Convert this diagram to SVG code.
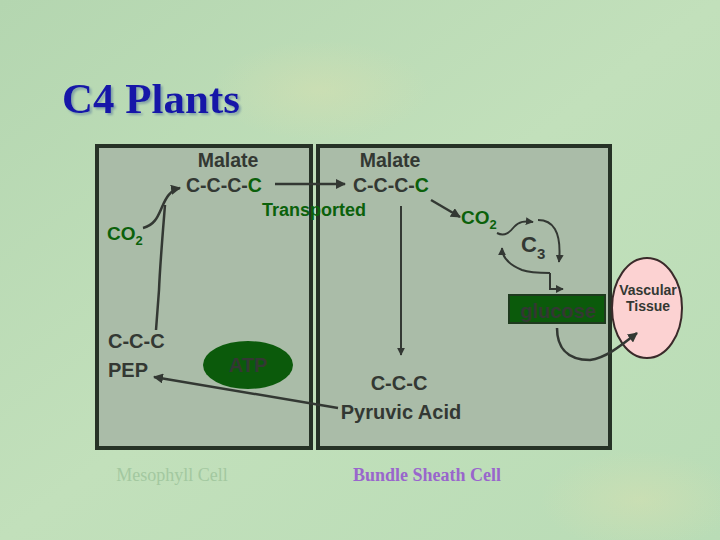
<svg xmlns="http://www.w3.org/2000/svg" width="720" height="540" viewBox="0 0 720 540">
<defs>
<linearGradient id="bg" x1="0" y1="0" x2="1" y2="1">
<stop offset="0" stop-color="#b4d6b0"/>
<stop offset="0.5" stop-color="#c2e0bb"/>
<stop offset="1" stop-color="#b9dcb6"/>
</linearGradient>
<radialGradient id="spot" cx="0.5" cy="0.5" r="0.5">
<stop offset="0" stop-color="#d8e0b0" stop-opacity="0.5"/>
<stop offset="1" stop-color="#d8e0b0" stop-opacity="0"/>
</radialGradient>
<filter id="sh" x="-5%" y="-20%" width="115%" height="150%">
<feDropShadow dx="2" dy="2" stdDeviation="0.8" flood-color="#6a8aa0" flood-opacity="0.7"/>
</filter>
<marker id="ah" viewBox="0 0 10 10" refX="9" refY="5" markerWidth="4" markerHeight="4" orient="auto-start-reverse">
<path d="M0,0 L10,5 L0,10 z" fill="#333833"/>
</marker>
<style>
.cell{fill:#aabca8;stroke:#263226;stroke-width:4}
.t{font-family:"Liberation Sans",Arial,sans-serif;font-weight:bold;fill:#333833}
.g{fill:#0b610b}
.ln{fill:none;stroke:#333833;stroke-width:2.5}
.lt{fill:none;stroke:#333833;stroke-width:2}
</style>
</defs>
<rect width="720" height="540" fill="url(#bg)"/>
<ellipse cx="320" cy="90" rx="110" ry="50" fill="url(#spot)"/>
<ellipse cx="640" cy="500" rx="100" ry="50" fill="url(#spot)"/>
<text x="62" y="113" font-family="Liberation Serif,Times New Roman,serif" font-weight="bold" font-size="43" fill="#1414a8" filter="url(#sh)">C4 Plants</text>

<g id="mesophyll"><rect class="cell" x="97" y="146" width="214" height="302"/></g>
<g id="bundle-sheath"><rect class="cell" x="318" y="146" width="292" height="302"/></g>
<g id="vascular">
<ellipse cx="647" cy="308" rx="35" ry="50" fill="#fcd2d2" stroke="#3a2a2a" stroke-width="2"/>
<text class="t" x="648" y="295" font-size="14" font-weight="normal" text-anchor="middle">Vascular</text>
<text class="t" x="648" y="311" font-size="14" font-weight="normal" text-anchor="middle">Tissue</text>
</g>

<g id="connectors">
<path class="ln" d="M275,184 L345,184" marker-end="url(#ah)"/>
<path class="ln" d="M431,200 L460,217" marker-end="url(#ah)"/>
<path class="lt" d="M401,206 L401,355" marker-end="url(#ah)"/>
<path class="ln" d="M143,228 C155,225 158,216 162,207 C166,198 170,190 180,188" marker-end="url(#ah)"/>
<path class="ln" d="M165,205 C163,230 160,265 159,290 C158,305 157,318 156,330"/>
<path class="ln" d="M338,408 L154,377" marker-end="url(#ah)"/>
<path class="lt" d="M497,233 C505,237 510,232 514,227 C519,221 525,221 533,222" marker-end="url(#ah)"/>
<path class="lt" d="M538,220 C552,220 562,230 559,262" marker-end="url(#ah)"/>
<path class="lt" d="M550,273 C540,273 530,273 522,270 C510,265 502,258 502,248" marker-end="url(#ah)"/>
<path class="lt" d="M550,273 L550,289 L563,289" marker-end="url(#ah)"/>
<path class="ln" d="M557,328 C557,345 565,360 590,360 C605,358 618,348 637,333" marker-end="url(#ah)"/>
</g>

<g id="malate-left">
<text class="t" x="228" y="167" font-size="19.5" text-anchor="middle">Malate</text>
<text class="t" x="186" y="192" font-size="19.5">C-C-C-<tspan class="g">C</tspan></text>
</g>
<g id="malate-right">
<text class="t" x="390" y="167" font-size="19.5" text-anchor="middle">Malate</text>
<text class="t" x="353" y="192" font-size="19.5">C-C-C-<tspan class="g">C</tspan></text>
</g>
<g id="transported"><text class="t g" x="262" y="216" font-size="18">Transported</text></g>
<g id="co2-right"><text class="t g" x="461" y="224" font-size="19">CO<tspan font-size="13" dy="5">2</tspan></text></g>
<g id="co2-left"><text class="t g" x="107" y="240" font-size="19">CO<tspan font-size="13" dy="5">2</tspan></text></g>
<g id="c3"><text class="t" x="521" y="252" font-size="22" font-weight="normal">C<tspan font-size="15" dy="7">3</tspan></text></g>
<g id="glucose">
<rect x="509" y="295" width="96" height="28" fill="#0b5a0b" stroke="#1e3a1e" stroke-width="2"/>
<text class="t" x="558" y="318" font-size="20" text-anchor="middle" fill="#2e4a2e">glucose</text>
</g>
<g id="pep">
<text class="t" x="108" y="348" font-size="20">C-C-C</text>
<text class="t" x="108" y="377" font-size="20">PEP</text>
</g>
<g id="atp">
<ellipse cx="248" cy="365" rx="45" ry="24" fill="#0b5a0b"/>
<text class="t" x="248" y="372" font-size="20" text-anchor="middle" fill="#2e4a2e">ATP</text>
</g>
<g id="pyruvic">
<text class="t" x="399" y="390" font-size="20" text-anchor="middle">C-C-C</text>
<text class="t" x="401" y="419" font-size="20" text-anchor="middle">Pyruvic Acid</text>
</g>
<text x="172" y="481" font-family="Liberation Serif,Times New Roman,serif" font-size="18" fill="#a3c8a0" text-anchor="middle">Mesophyll Cell</text>
<text x="427" y="481" font-family="Liberation Serif,Times New Roman,serif" font-weight="bold" font-size="18" fill="#9966cc" text-anchor="middle">Bundle Sheath Cell</text>
</svg>
